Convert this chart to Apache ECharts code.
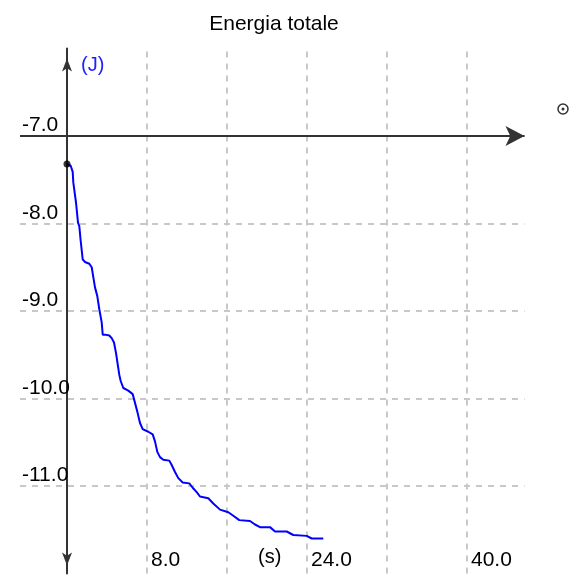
<!DOCTYPE html>
<html>
<head>
<meta charset="utf-8">
<script src="https://cdn.jsdelivr.net/npm/echarts@6/dist/echarts.min.js"></script>
<style>html,body{margin:0;padding:0;background:#fff}#c{width:574px;height:580px}</style>
</head>
<body>
<div id="c"></div>
<script>
// Time (s)
var tData = [0, 0.37, 0.57, 0.63, 0.83, 0.9, 1.03, 1.1, 1.23, 1.37, 1.57, 1.8, 2.23, 2.47, 2.8, 3.03, 3.23, 3.47, 3.57, 3.8, 4.23, 4.47, 4.7, 4.9, 5.23, 5.37, 5.63, 6.13, 6.57, 6.8, 7.03, 7.3, 7.57, 8.13, 8.57, 8.8, 9.03, 9.3, 9.63, 10.23, 10.47, 10.8, 11.13, 11.57, 12.23, 12.57, 12.97, 13.3, 14.13, 14.63, 15.3, 16.13, 16.63, 17.23, 18.3, 18.8, 19.3, 20.3, 20.8, 21.97, 22.63, 23.97, 24.47, 25.63];
// Total energy (J)
var eData = [-7.32, -7.34, -7.41, -7.53, -7.55, -7.76, -7.78, -7.99, -8.03, -8.2, -8.41, -8.44, -8.46, -8.5, -8.73, -8.83, -8.98, -9.13, -9.27, -9.27, -9.28, -9.31, -9.36, -9.48, -9.73, -9.8, -9.88, -9.91, -9.95, -10.05, -10.15, -10.28, -10.35, -10.38, -10.41, -10.49, -10.61, -10.67, -10.7, -10.71, -10.76, -10.84, -10.91, -10.96, -10.97, -11.02, -11.07, -11.12, -11.14, -11.2, -11.27, -11.3, -11.34, -11.39, -11.4, -11.44, -11.47, -11.47, -11.52, -11.52, -11.56, -11.57, -11.6, -11.6];
var xLabelValues = [8, 24, 40];
var xGridValues = [8, 16, 24, 32, 40];
var yLabelValues = [-7, -8, -9, -10, -11];
var xAxisLineAt = -7;
var titleText = 'Energia totale';
var yUnit = '(J)';
var xUnit = '(s)';

var FONT = "'Liberation Sans', Arial, sans-serif";
var chart = echarts.init(document.getElementById('c'), null, {renderer: 'canvas'});
var curve = tData.map(function (t, i) { return [t, eData[i]]; });

chart.setOption({
  animation: false,
  backgroundColor: '#fff',
  title: {
    text: titleText, left: 269, top: 9, textAlign: 'center',
    textStyle: {fontFamily: FONT, fontSize: 21, fontWeight: 'normal', color: '#000'}
  },
  grid: {left: 20, right: 49.5, top: 48.5, bottom: 6.5, containLabel: false, outerBoundsMode: 'none'},
  xAxis: {
    type: 'value', min: -4.7, max: 45.75,
    axisLine: {show: false, onZero: false},
    axisTick: {show: false},
    splitLine: {show: false},
    axisLabel: {
      customValues: xLabelValues, inside: true, margin: 3, align: 'left',
      padding: [0, 0, 0, 4],
      fontFamily: FONT, fontSize: 21, color: '#000',
      formatter: function (v) { return v.toFixed(1); }
    }
  },
  yAxis: {
    type: 'value', min: -12, max: -6, interval: 1, offset: -47,
    axisLine: {show: true, onZero: false, symbol: ['arrow', 'arrow'], symbolSize: [7.5, 13], symbolOffset: [8, -10],
      lineStyle: {color: '#333', width: 2}},
    axisTick: {show: false},
    splitLine: {show: true, showMinLine: false, showMaxLine: false,
      lineStyle: {color: '#c8c8c8', width: 2, type: [6, 6]}},
    axisLabel: {
      customValues: yLabelValues, margin: 45, verticalAlign: 'bottom', align: 'left',
      fontFamily: FONT, fontSize: 21, color: '#000',
      formatter: function (v) { return v.toFixed(1); }
    }
  },
  series: [
    {
      type: 'line', data: [], silent: true,
      markLine: {
        silent: true, symbol: 'none', label: {show: false}, animation: false,
        lineStyle: {color: '#c8c8c8', width: 2, type: [6, 6]},
        data: xGridValues.map(function (v) { return {xAxis: v}; })
      }
    },
    {
      type: 'line', data: curve, showSymbol: false, silent: true, smooth: false,
      lineStyle: {color: '#0000ff', width: 2}, z: 5
    },
    {
      type: 'line', data: [], silent: true,
      markLine: {
        silent: true, symbol: ['none', 'arrow'], symbolSize: [15, 19], label: {show: false}, animation: false,
        lineStyle: {color: '#333', width: 2, type: 'solid'},
        data: [{yAxis: xAxisLineAt}]
      }
    },
    {
      type: 'scatter', data: [curve[0]], symbol: 'circle', symbolSize: 7, silent: true, z: 6,
      itemStyle: {color: '#000'}
    }
  ],
  graphic: [
    {type: 'text', left: 81, top: 55, silent: true,
      style: {text: yUnit, fill: '#2020ff', font: '20px ' + FONT}},
    {type: 'text', left: 258, top: 547, silent: true,
      style: {text: xUnit, fill: '#000', font: '20px ' + FONT}},
    {type: 'circle', shape: {cx: 563, cy: 109, r: 5}, silent: true,
      style: {fill: 'none', stroke: '#333', lineWidth: 1.5}},
    {type: 'circle', shape: {cx: 563, cy: 109, r: 1.5}, silent: true,
      style: {fill: '#333'}}
  ]
});
</script>
</body>
</html>
